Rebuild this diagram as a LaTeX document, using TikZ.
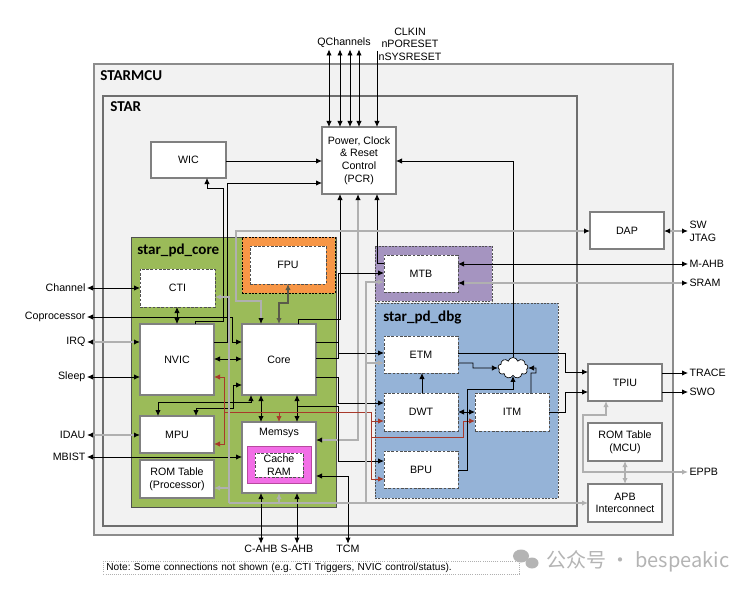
\documentclass[tikz,border=0pt]{standalone}
\usepackage{fontspec}
\setmainfont{Liberation Sans}
\newfontfamily\ttlfont{Carlito}
\newfontfamily\cjkfont{Noto Sans CJK SC}
\usetikzlibrary{arrows.meta,shapes.symbols}
\definecolor{bgc}{HTML}{F2F2F2}
\definecolor{mcub}{HTML}{8C8C8C}
\definecolor{starb}{HTML}{6E6E6E}
\definecolor{grn}{HTML}{9BBB59}
\definecolor{grnb}{HTML}{505050}
\definecolor{org}{HTML}{F79646}
\definecolor{pur}{HTML}{A594C0}
\definecolor{blu}{HTML}{95B3D7}
\definecolor{mag}{HTML}{F26EE6}
\definecolor{magb}{HTML}{B8489F}
\definecolor{boxc}{HTML}{808080}
\definecolor{dashc}{HTML}{505050}
\definecolor{lgc}{HTML}{B0B0B0}
\definecolor{redc}{HTML}{A8392B}
\definecolor{dlc}{HTML}{5A5A4A}
\definecolor{wm}{HTML}{B4B4B4}
\newcommand{\rbox}[7]{\node[#1,minimum width={(#5-#3)*0.75pt},minimum height={(#6-#4)*0.75pt}] (#2) at ({(#3+#5)/2},{(#4+#6)/2}) {#7};}
\tikzset{
 lbl/.style={font=\fontsize{8}{9.5}\selectfont, inner sep=1pt},
 sbox/.style={draw=boxc, fill=white, line width=1pt, inner sep=0pt, outer sep=0pt, align=center, font=\fontsize{8}{9.5}\selectfont},
 dbox/.style={draw=dashc, fill=white, line width=0.7pt, dash pattern=on 2pt off 1.2pt, inner sep=0pt, outer sep=0pt, align=center, font=\fontsize{8}{9.5}\selectfont},
 area/.style={inner sep=0pt, outer sep=0pt},
 ttl/.style={font=\ttlfont\bfseries\fontsize{11.3}{13}\selectfont, inner sep=0pt, anchor=west},
 ext/.style={inner sep=1pt, font=\fontsize{8}{9.5}\selectfont, align=left},
 ln/.style={line width=0.6pt, draw=black},
 gl/.style={line width=1pt, draw=lgc},
 rl/.style={line width=0.7pt, draw=redc},
 dl/.style={line width=0.8pt, draw=dlc},
 bb/.style={arrows={Latex[length=4.5pt,width=4pt,color=black]-Latex[length=4.5pt,width=4pt,color=black]}},
 be/.style={arrows={-Latex[length=4.5pt,width=4pt,color=black]}},
}
\frenchspacing
\begin{document}
\begin{tikzpicture}[x=0.75pt,y=-0.75pt,>={Latex[length=4.5pt,width=4pt]}]
\useasboundingbox (0,0) rectangle (750,592);
\fill[white] (0,0) rectangle (750,592);
% regions
\rbox{area,fill=bgc,draw=mcub,line width=1pt}{starmcu}{94}{64}{673}{535}{}
\rbox{area,fill=bgc,draw=starb,line width=1pt}{star}{103}{96}{577}{526}{}
\node[ttl] (tmcu) at (100,76) {STARMCU};
\node[ttl] (tstar) at (110,107) {STAR};
\rbox{area,fill=grn,draw=grnb,line width=0.6pt}{pdcore}{131}{237}{336}{507}{}
\node[ttl] (tcore) at (137,250) {star\_pd\_core};
\rbox{area,fill=org,draw=black,line width=0.5pt,dash pattern=on 1.5pt off 1pt}{fpuo}{242}{237}{335}{293}{}
\rbox{area,fill=pur,draw=dashc,line width=0.6pt,dash pattern=on 1.5pt off 1pt}{mtbo}{375}{246}{492}{301}{}
\rbox{area,fill=blu,draw=dashc,line width=0.6pt,dash pattern=on 1.5pt off 1pt}{pddbg}{375}{303}{558}{498}{}
\node[ttl] (tdbg) at (383,317) {star\_pd\_dbg};
% boxes
\rbox{sbox}{pcr}{322}{127}{396}{194}{Power, Clock\\\& Reset\\Control\\(PCR)}
\rbox{sbox}{wic}{151}{142}{226}{178}{WIC}
\rbox{dbox}{fpu}{250}{246}{326}{284}{FPU}
\rbox{dbox}{cti}{140}{269}{215}{307}{CTI}
\rbox{sbox}{nvic}{140}{324}{214}{395}{NVIC}
\rbox{sbox}{core}{242}{324}{316}{395}{Core}
\rbox{sbox}{mpu}{140}{416}{214}{453}{MPU}
\rbox{sbox}{romp}{140}{460}{214}{498}{ROM Table\\(Processor)}
\rbox{sbox}{mem}{242}{422}{316}{493}{}
\node[lbl] (memlbl) at (279,433) {Memsys};
\rbox{area,fill=mag,draw=magb,line width=0.6pt}{cache}{247}{446}{311}{483}{}
\rbox{dbox}{cram}{255}{453}{303}{477}{Cache\\RAM}
\rbox{dbox}{mtb}{384}{255}{458}{292}{MTB}
\rbox{dbox}{etm}{384}{336}{458}{373}{ETM}
\rbox{dbox}{dwt}{384}{393}{458}{431}{DWT}
\rbox{dbox}{itm}{475}{393}{549}{431}{ITM}
\rbox{dbox}{bpu}{384}{451}{458}{488}{BPU}
\node[cloud, cloud puffs=9, aspect=1.4, draw=black, fill=white, line width=0.5pt, inner sep=0pt, minimum width=30*0.75pt, minimum height=21*0.75pt] (cl) at (513,368) {};
\rbox{sbox}{dap}{590}{212}{664}{249}{DAP}
\rbox{sbox}{tpiu}{588}{364}{662}{401}{TPIU}
\rbox{sbox}{romm}{588}{423}{662}{461}{ROM Table\\(MCU)}
\rbox{sbox}{apb}{588}{484}{662}{522}{APB\\Interconnect}
% external labels
\node[lbl] (qch) at (344,43) {QChannels};
\node[lbl,align=center] (clk) at (410,44) {CLKIN\\nPORESET\\nSYSRESET};
\coordinate (clkin) at (377,51);
\node[ext,anchor=west] (lsw) at (688,231) {SW\\JTAG};
\node[ext,anchor=west] (lmahb) at (688,264) {M-AHB};
\node[ext,anchor=west] (lsram) at (688,283) {SRAM};
\node[ext,anchor=west] (ltrace) at (688,373) {TRACE};
\node[ext,anchor=west] (lswo) at (688,392) {SWO};
\node[ext,anchor=west] (leppb) at (688,472) {EPPB};
\node[ext,anchor=east] (lchan) at (87,288) {Channel};
\node[ext,anchor=east] (lcop) at (87,317) {Coprocessor};
\node[ext,anchor=east] (lirq) at (87,342) {IRQ};
\node[ext,anchor=east] (lsleep) at (87,377) {Sleep};
\node[ext,anchor=east] (lidau) at (87,435) {IDAU};
\node[ext,anchor=east] (lmbist) at (87,457) {MBIST};
\node[lbl] (lcahb) at (261,549) {C-AHB};
\node[lbl] (lsahb) at (297,549) {S-AHB};
\node[lbl] (ltcm) at (348,549) {TCM};
% PCR top
\foreach \xx in {329,340,350,359}{\draw[ln,<->] (qch.south -| \xx,0) -- (pcr.north -| \xx,0);}
\draw[ln,->] (clkin) -- (pcr.north -| 377,0);
% PCR connections
\draw[ln,->] (wic.east |- 0,161) -- (pcr.west |- 0,161);
\draw[ln,->] (nvic.north -| 195,0) -- (195,321) -- (223,321) -- (223,188) -- (207,188) -- (wic.south -| 207,0);
\draw[ln,->] (nvic.east |- 0,342) -- (227,342) -- (227,183) -- (pcr.west |- 0,183);
\draw[ln,->] (core.north -| 298,0) -- (298,319) -- (340,319) -- (pcr.south -| 340,0);
\draw[gl,bb] (mem.east |- 0,440) -- (358,440) -- (pcr.south -| 358,0);
\draw[ln,->] (mtb.west |- 0,263) -- (377,263) -- (pcr.south -| 377,0);
\draw[ln,->] (cl.north) -- (513,161) -- (pcr.east |- 0,161);
% core area
\draw[ln,<->] (cti.south -| 177,0) -- (nvic.north -| 177,0);
\draw[ln,<->] (lchan.east) -- (cti.west |- 0,288);
\draw[ln,<->] (lcop.east) -- (232,317) -- (232,342) -- (core.west |- 0,342);
\draw[gl,bb] (lirq.east) -- (nvic.west |- 0,342);
\draw[ln,<->] (lsleep.east) -- (nvic.west |- 0,377);
\draw[gl,bb] (lidau.east) -- (mpu.west |- 0,435);
\draw[ln,<->] (lmbist.east) -- (mem.west |- 0,457);
\draw[ln,<->] (nvic.east |- 0,359) -- (core.west |- 0,359);
\draw[gl,bb] (dap.west |- 0,231) -- (236,231) -- (236,301) -- (261,301) -- (core.north -| 261,0);
\draw[dl,<->] (fpu.south -| 288,0) -- (288,303) -- (279,303) -- (core.north -| 279,0);
\draw[ln,<->] (mpu.north -| 158,0) -- (158,402) -- (251,402) -- (core.south -| 251,0);
\draw[ln,<->] (mpu.north -| 196,0) -- (196,408) -- (233,408) -- (233,385) -- (core.west |- 0,385);
\draw[ln,<->] (core.south -| 261,0) -- (mem.north -| 261,0);
\draw[ln,<->] (core.south -| 297,0) -- (mem.north -| 297,0);
\draw[ln,<->] (mem.south -| 261,0) -- (lcahb.north);
\draw[ln,<->] (mem.south -| 297,0) -- (lsahb.north);
\draw[ln,<->] (mem.east |- 0,476) -- (348,476) -- (ltcm.north);
% core to debug
\draw[ln,->] (core.east |- 0,342) -- (338,342) -- (338,273) -- (mtb.west |- 0,273);
\draw[ln] (core.east |- 0,358) -- (338,358) -- (338,342);
\draw[ln,->] (338,353) -- (etm.west |- 0,353);
\draw[ln,->] (core.east |- 0,377) -- (338,377) -- (338,403) -- (dwt.west |- 0,403);
\draw[ln,->] (297,406) -- (338,406) -- (338,461) -- (bpu.west |- 0,461);
% red
\draw[rl] (224,412) -- (371,412);
\draw[rl,->] (224,412) -- (224,377) -- (nvic.east |- 0,377);
\draw[rl,->] (224,412) -- (224,444) -- (mpu.east |- 0,444);
\draw[rl,->] (279,412) -- (mem.north -| 279,0);
\draw[rl,->] (371,412) -- (371,421) -- (dwt.west |- 0,421);
\draw[rl,->] (371,421) -- (371,479) -- (bpu.west |- 0,479);
\draw[rl,->] (371,437) -- (463,437) -- (463,421) -- (itm.west |- 0,421);
% gray APB bus
\draw[gl,->] (229,503) -- (apb.west |- 0,503);
\draw[gl,->] (229,503) -- (229,297) -- (cti.east |- 0,297);
\draw[gl,->] (229,488) -- (romp.east |- 0,488);
\draw[gl,->] (279,503) -- (mem.south -| 279,0);
\draw[gl,->] (366,503) -- (366,282) -- (mtb.west |- 0,282);
\draw[gl,->] (366,363) -- (etm.west |- 0,363);
% debug
\draw[ln,->] (dwt.north -| 422,0) -- (etm.south -| 422,0);
\draw[ln,<->] (dwt.east |- 0,412) -- (itm.west |- 0,412);
\draw[ln,->] (etm.east |- 0,363) -- (473,363) -- (473,368) -- (cl.west);
\draw[ln,->] (itm.north -| 531,0) -- (531,373) -- (536,373) -- (536,368) -- (cl.east);
\draw[ln,->] (bpu.east |- 0,470) -- (467,470) -- (467,389) -- (513,389) -- (cl.south);
\draw[ln,->] (etm.east |- 0,353) -- (565,353) -- (565,372) -- (tpiu.west |- 0,372);
\draw[ln,->] (itm.east |- 0,412) -- (565,412) -- (565,392) -- (tpiu.west |- 0,392);
\draw[ln,<->] (mtb.east |- 0,264) -- (lmahb.west);
\draw[gl,bb] (mtb.east |- 0,283) -- (lsram.west);
\draw[gl,bb] (dap.east |- 0,231) -- (lsw.west);
\draw[ln,->] (tpiu.east |- 0,373) -- (ltrace.west);
\draw[ln,->] (tpiu.east |- 0,392) -- (lswo.west);
\draw[gl,<->] (tpiu.south -| 606,0) -- (606,415) -- (583,415) -- (583,472) -- (leppb.west);
\draw[gl,<->] (romm.south -| 625,0) -- (apb.north -| 625,0);
% note
\node[draw=lgc, densely dotted, line width=0.6pt, anchor=west, inner sep=0pt, minimum height=13*0.75pt, minimum width=416*0.75pt, text width=410*0.75pt, font=\fontsize{7.6}{9}\selectfont, align=left] (note) at (103,567.5) {Note: Some connections not shown (e.g. CTI Triggers, NVIC control/status).};
% watermark
\fill[wm] (521,556) ellipse (8 and 6.5);
\fill[wm] (532,563) ellipse (6.5 and 5.5);
\node[text=wm, font=\cjkfont\fontsize{15}{17}\selectfont, anchor=west, inner sep=0pt] (wmk) at (546,561) {公众号 · bespeakic};
\end{tikzpicture}
\end{document}
